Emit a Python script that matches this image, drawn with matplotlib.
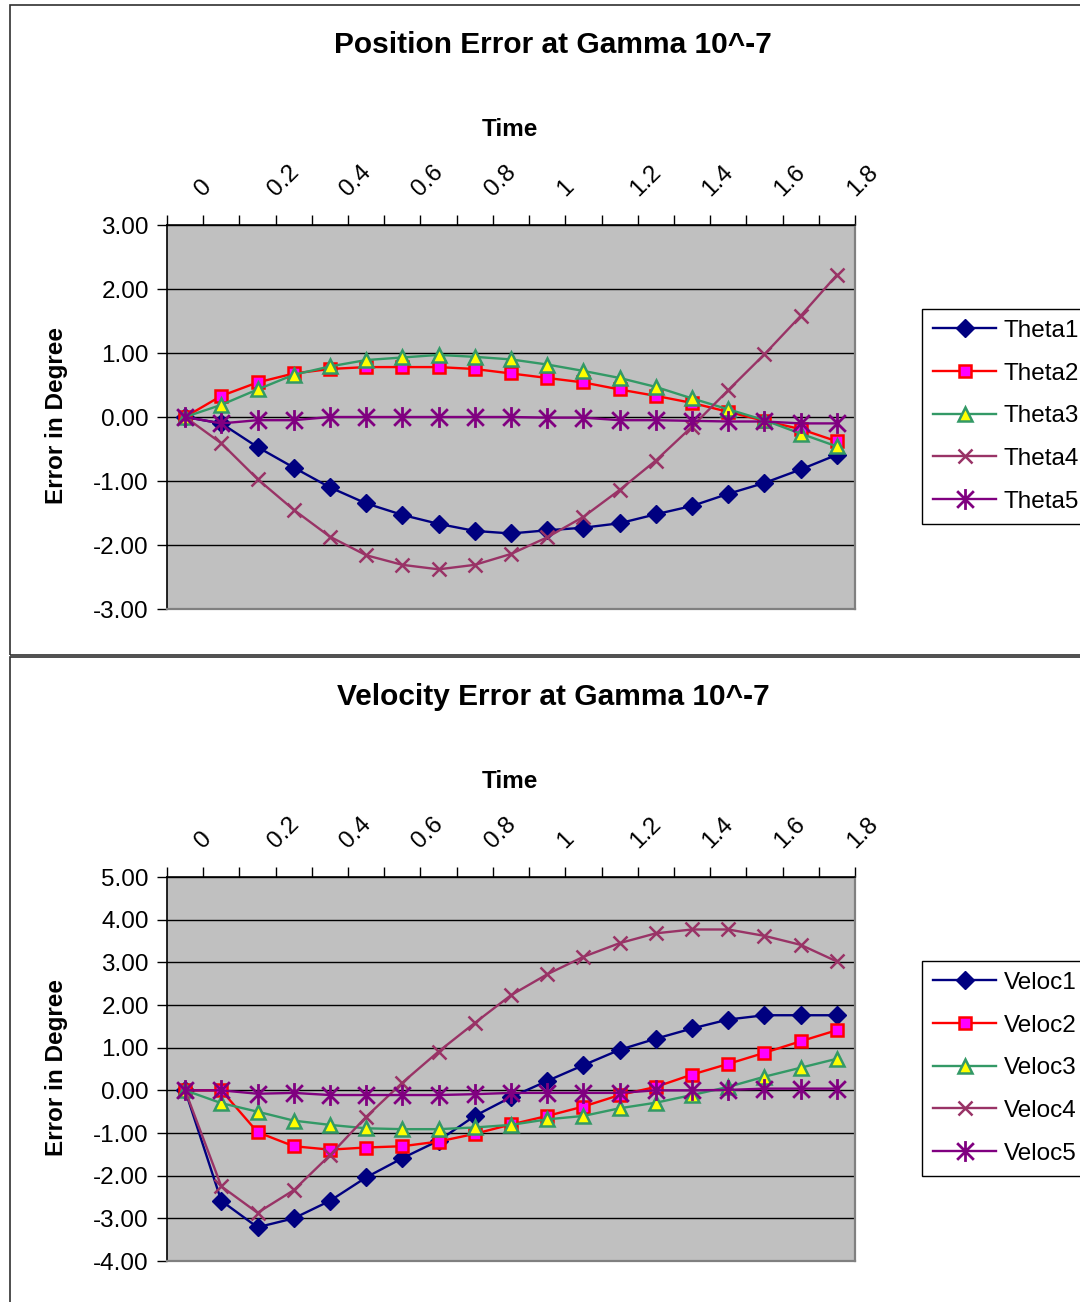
import numpy as np
import matplotlib.pyplot as plt
from matplotlib.path import Path
from matplotlib.patches import Rectangle
from matplotlib.ticker import FormatStrFormatter

plt.rcParams['font.family'] = ['Liberation Sans', 'DejaVu Sans']
plt.rcParams['axes.unicode_minus'] = False

# categories on the time axis (every 0.1), only every second one is labelled
times = [0, 0.1, 0.2, 0.3, 0.4, 0.5, 0.6, 0.7, 0.8, 0.9,
         1.0, 1.1, 1.2, 1.3, 1.4, 1.5, 1.6, 1.7, 1.8]
time_labels = ['0', '0.2', '0.4', '0.6', '0.8', '1', '1.2', '1.4', '1.6', '1.8']

# position error (top chart)
theta1 = [0, -0.10, -0.47, -0.79, -1.10, -1.35, -1.53, -1.67, -1.78, -1.82,
          -1.77, -1.73, -1.66, -1.52, -1.39, -1.20, -1.03, -0.82, -0.59]
theta2 = [0, 0.33, 0.54, 0.68, 0.75, 0.78, 0.78, 0.78, 0.75, 0.68,
          0.61, 0.54, 0.43, 0.33, 0.22, 0.08, -0.06, -0.19, -0.38]
theta3 = [0, 0.19, 0.43, 0.66, 0.79, 0.89, 0.93, 0.97, 0.94, 0.90,
          0.82, 0.72, 0.61, 0.47, 0.29, 0.12, -0.05, -0.26, -0.46]
theta4 = [0, -0.41, -0.97, -1.45, -1.87, -2.16, -2.31, -2.38, -2.31, -2.14,
          -1.88, -1.56, -1.14, -0.68, -0.15, 0.42, 0.98, 1.58, 2.22]
theta5 = [0, -0.10, -0.05, -0.05, 0, 0, 0, 0, 0, 0,
          -0.01, -0.01, -0.05, -0.05, -0.06, -0.07, -0.07, -0.10, -0.10]

# velocity error (bottom chart)
veloc1 = [0, -2.59, -3.21, -3.00, -2.59, -2.04, -1.59, -1.18, -0.60, -0.16,
          0.22, 0.59, 0.95, 1.21, 1.45, 1.66, 1.76, 1.76, 1.76]
veloc2 = [0, 0, -0.98, -1.31, -1.39, -1.34, -1.31, -1.20, -1.02, -0.80,
          -0.60, -0.38, -0.11, 0.08, 0.37, 0.62, 0.88, 1.15, 1.41]
veloc3 = [0, -0.30, -0.50, -0.71, -0.81, -0.89, -0.91, -0.91, -0.87, -0.81,
          -0.68, -0.60, -0.42, -0.29, -0.11, 0.08, 0.32, 0.53, 0.74]
veloc4 = [0, -2.25, -2.87, -2.34, -1.52, -0.62, 0.18, 0.91, 1.58, 2.23,
          2.72, 3.13, 3.45, 3.68, 3.77, 3.77, 3.62, 3.41, 3.02]
veloc5 = [0, 0, -0.08, -0.06, -0.11, -0.11, -0.11, -0.11, -0.09, -0.06,
          -0.06, -0.06, -0.06, 0, 0, 0.01, 0.04, 0.04, 0.04]

# excel style star marker: X with a vertical bar
star = Path([(0, -1), (0, 1), (-0.8, -0.8), (0.8, 0.8), (-0.8, 0.8), (0.8, -0.8)],
            [Path.MOVETO, Path.LINETO, Path.MOVETO, Path.LINETO, Path.MOVETO, Path.LINETO])

styles = [
    dict(color='#000080', marker='D', ms=9, mfc='#000080', mec='#000080'),
    dict(color='#FF0000', marker='s', ms=8.5, mfc='#FF00FF', mec='#FF0000', mew=1.8),
    dict(color='#339966', marker='^', ms=10.5, mfc='#FFFF00', mec='#339966', mew=1.8),
    dict(color='#993366', marker='x', ms=10.5, mew=1.8),
    dict(color='#800080', marker=star, ms=15, mew=2.0),
]

W, H = 1080, 1302
fig = plt.figure(figsize=(W / 100, H / 100), dpi=100)


def fx(px):
    return px / W


def fy(py):
    return 1 - py / H


# chart borders
fig.add_artist(Rectangle((fx(10), fy(655)), fx(1100) - fx(10), fy(5) - fy(655),
                         transform=fig.transFigure, fill=False, ec='#303030', lw=1.2))
fig.add_artist(Rectangle((fx(10), fy(1320)), fx(1100) - fx(10), fy(657) - fy(1320),
                         transform=fig.transFigure, fill=False, ec='#303030', lw=1.2))


def panel(top, series, names, ylim, yticks, title):
    ax = fig.add_axes([fx(167), fy(top + 384), fx(855) - fx(167), 384 / H])
    ax.set_facecolor('#C0C0C0')
    xs = np.arange(len(times))
    handles = []
    for vals, name, st in zip(series, names, styles):
        ln, = ax.plot(xs, vals, lw=1.7, clip_on=False, label=name, **st)
        handles.append(ln)

    ax.set_xlim(-0.5, len(times) - 0.5)
    ax.set_ylim(*ylim)
    ax.set_yticks(yticks)
    ax.yaxis.set_major_formatter(FormatStrFormatter('%.2f'))
    ax.yaxis.grid(True, color='black', lw=1)
    ax.set_axisbelow(True)

    # category boundaries as ticks, labels on every second boundary
    ax.xaxis.tick_top()
    bounds = np.arange(len(times) + 1) - 0.5
    labs = [''] * len(bounds)
    for k, t in enumerate(time_labels):
        labs[2 * k + 1] = t
    ax.set_xticks(bounds)
    ax.set_xticklabels(labs, fontsize=17.5)
    for lab in ax.get_xticklabels():
        lab.set_rotation(45)
        lab.set_ha('left')
        lab.set_va('baseline')
        lab.set_rotation_mode('anchor')
    ax.tick_params(axis='x', length=7, width=1, direction='out', pad=13)
    ax.tick_params(axis='y', length=7, width=1, direction='out', pad=6, labelsize=17.5)

    for s in ['top', 'left']:
        ax.spines[s].set_color('black')
        ax.spines[s].set_linewidth(1.2)
    for s in ['right', 'bottom']:
        ax.spines[s].set_color('#808080')
        ax.spines[s].set_linewidth(1.6)

    fig.text(fx(553), fy(top - 180), title, ha='center', va='center',
             fontsize=21.5, fontweight='bold')
    fig.text(fx(510), fy(top - 95), 'Time', ha='center', va='center',
             fontsize=17.5, fontweight='bold')
    fig.text(fx(57), fy(top + 190), 'Error in Degree', ha='center', va='center',
             rotation=90, fontsize=17.5, fontweight='bold')

    leg = fig.legend(handles=handles, loc='upper left',
                     bbox_to_anchor=(fx(922), fy(top + 84)),
                     bbox_transform=fig.transFigure, fontsize=17.5,
                     frameon=True, fancybox=False, edgecolor='black',
                     framealpha=1, numpoints=1, handlelength=2.6,
                     handletextpad=0.3, labelspacing=0.85, borderpad=0.45,
                     borderaxespad=0)
    leg.get_frame().set_linewidth(1.0)
    return ax


panel(225, [theta1, theta2, theta3, theta4, theta5],
      ['Theta1', 'Theta2', 'Theta3', 'Theta4', 'Theta5'],
      (-3, 3), [-3, -2, -1, 0, 1, 2, 3], 'Position Error at Gamma 10^-7')
panel(877, [veloc1, veloc2, veloc3, veloc4, veloc5],
      ['Veloc1', 'Veloc2', 'Veloc3', 'Veloc4', 'Veloc5'],
      (-4, 5), [-4, -3, -2, -1, 0, 1, 2, 3, 4, 5], 'Velocity Error at Gamma 10^-7')

fig.savefig('out.png', dpi=100)
